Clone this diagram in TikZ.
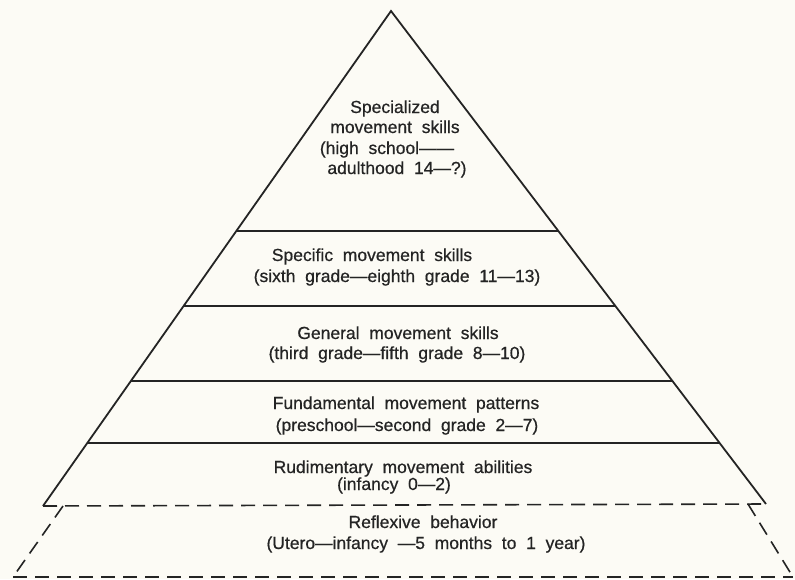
\documentclass[tikz,border=0pt]{standalone}
\usepackage{fontspec}
\setmainfont[WordSpace=2,FakeBold=0.6]{Liberation Sans}
\usetikzlibrary{calc}
\definecolor{paper}{RGB}{252,251,245}
\definecolor{ink}{RGB}{36,36,36}
\tikzset{
  edge/.style={draw=ink, line width=1.8pt, line join=miter},
  tier/.style={draw=ink, line width=1.8pt},
  dashline/.style={draw=ink, line width=1.6pt, dash pattern=on 14pt off 8pt},
  lbl/.style={text=ink, inner sep=0pt, anchor=base, font=\fontsize{17.5}{21}\selectfont},
}
\begin{document}
\begin{tikzpicture}[x=1pt,y=-1pt]
\fill[paper] (0,0) rectangle (795,579);
\useasboundingbox (0,0) rectangle (795,579);
\coordinate (A) at (391,11);
\coordinate (BL) at (43,506);
\coordinate (BR) at (766,504);
\draw[edge] (BL) -- (A) -- (BR);
\foreach \y/\n in {231/1,306/2,381/3,443/4} {
  \coordinate (L\n) at ($(A)!{(\y-11)/495}!(BL)$);
  \coordinate (R\n) at ($(A)!{(\y-11)/493}!(BR)$);
  \draw[tier] (L\n) -- (R\n);
}
\coordinate (DL1) at (63,506);
\coordinate (DL2) at (13,577);
\coordinate (DR1) at (748,504);
\coordinate (DR2) at (793,577);
\draw[dashline] (BL) -- (BR);
\draw[dashline] (DL1) -- (DL2);
\draw[dashline] (DR1) -- (DR2);
\draw[dashline] (DL2) -- (DR2);

\node[lbl] (t1a) at (395,113) {Specialized};
\node[lbl] (t1b) at (395,133) {movement skills};
\node[lbl] (t1c) at (387,154) {(high school——};
\node[lbl] (t1d) at (397,174) {adulthood 14—?)};
\node[lbl] (t2a) at (372,261) {Specific movement skills};
\node[lbl] (t2b) at (397,282) {(sixth grade—eighth grade 11—13)};
\node[lbl] (t3a) at (398,339) {General movement skills};
\node[lbl] (t3b) at (397,359) {(third grade—fifth grade 8—10)};
\node[lbl] (t4a) at (406,409) {Fundamental movement patterns};
\node[lbl] (t4b) at (407,431) {(preschool—second grade 2—7)};
\node[lbl] (t5a) at (403,473) {Rudimentary movement abilities};
\node[lbl] (t5b) at (394,490) {(infancy 0—2)};
\node[lbl] (t6a) at (423,528) {Reflexive behavior};
\node[lbl] (t6b) at (426,549) {(Utero—infancy —5 months to 1 year)};
\end{tikzpicture}
\end{document}
